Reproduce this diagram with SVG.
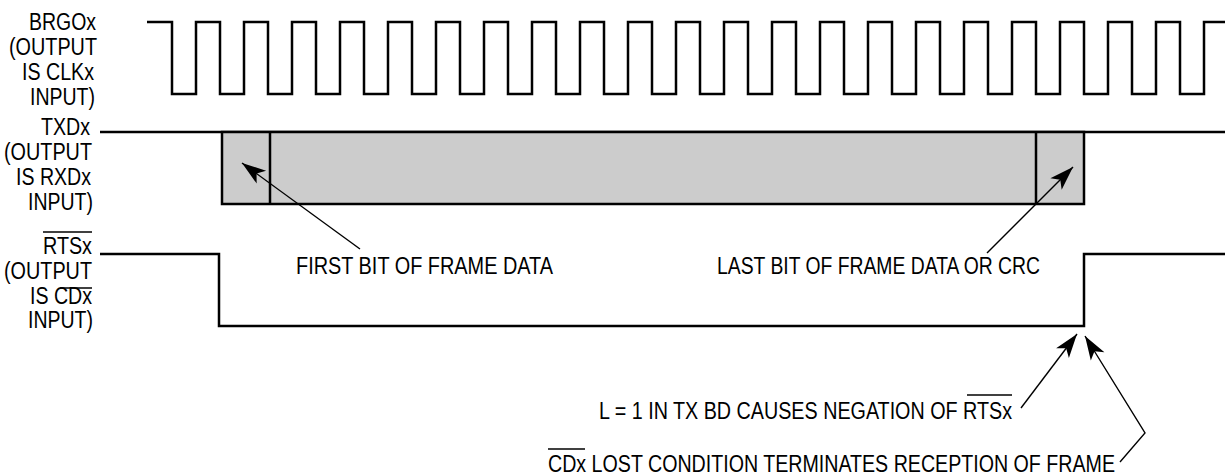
<svg xmlns="http://www.w3.org/2000/svg" width="1225" height="476" viewBox="0 0 1225 476">
<style>
text{font-family:"Liberation Sans",Arial,sans-serif;font-size:23px;fill:#000}
.lbl{text-anchor:end}
.wave{fill:none;stroke:#000;stroke-width:2.5;stroke-linejoin:miter}
.box{fill:#cccccc;stroke:#000;stroke-width:2.5}
.ov{stroke:#000;stroke-width:1.5}
.arr{fill:none;stroke:#000;stroke-width:1.4;marker-end:url(#ah)}
.lead{fill:none;stroke:#000;stroke-width:1.4}
</style>
<defs>
<marker id="ah" markerUnits="userSpaceOnUse" orient="auto" overflow="visible" refX="0" refY="0" markerWidth="30" markerHeight="20">
<path d="M0,0 L-24,-8 L-18,0 L-24,8 Z" fill="#000"/>
</marker>
</defs>
<rect width="1225" height="476" fill="#fff"/>
<g id="signal-brgo">
<text class="lbl" x="96" y="30" textLength="67" lengthAdjust="spacingAndGlyphs">BRGOx</text>
<text class="lbl" x="97" y="55" textLength="88" lengthAdjust="spacingAndGlyphs">(OUTPUT</text>
<text class="lbl" x="94" y="80" textLength="72" lengthAdjust="spacingAndGlyphs">IS CLKx</text>
<text class="lbl" x="95" y="105" textLength="65" lengthAdjust="spacingAndGlyphs">INPUT)</text>
<path class="wave" d="M147,22 H172 V94 H196 V22 H220 V94 H244 V22 H268 V94 H292 V22 H316 V94 H340 V22 H364 V94 H388 V22 H412 V94 H436 V22 H460 V94 H484 V22 H508 V94 H532 V22 H556 V94 H580 V22 H604 V94 H628 V22 H652 V94 H676 V22 H700 V94 H724 V22 H748 V94 H772 V22 H796 V94 H820 V22 H844 V94 H868 V22 H892 V94 H916 V22 H940 V94 H964 V22 H988 V94 H1012 V22 H1036 V94 H1060 V22 H1084 V94 H1108 V22 H1132 V94 H1156 V22 H1180 V94 H1204 V22 H1225"/>
</g>
<g id="signal-txd">
<text class="lbl" x="90" y="135" textLength="49" lengthAdjust="spacingAndGlyphs">TXDx</text>
<text class="lbl" x="92" y="160" textLength="88" lengthAdjust="spacingAndGlyphs">(OUTPUT</text>
<text class="lbl" x="91" y="185" textLength="75" lengthAdjust="spacingAndGlyphs">IS RXDx</text>
<text class="lbl" x="93" y="210" textLength="65" lengthAdjust="spacingAndGlyphs">INPUT)</text>
<path class="wave" d="M100,132 H1225"/>
<rect class="box" x="222" y="132" width="862" height="72"/>
<path class="wave" d="M270,132 V204 M1036,132 V204"/>
</g>
<g id="signal-rts">
<text class="lbl" x="92" y="254" textLength="49" lengthAdjust="spacingAndGlyphs">RTSx</text>
<line class="ov" x1="43" y1="232" x2="92" y2="232"/>
<text class="lbl" x="92" y="279" textLength="88" lengthAdjust="spacingAndGlyphs">(OUTPUT</text>
<text class="lbl" x="92" y="304" textLength="62" lengthAdjust="spacingAndGlyphs">IS CDx</text>
<line class="ov" x1="60" y1="288" x2="92" y2="288"/>
<text class="lbl" x="93" y="328" textLength="65" lengthAdjust="spacingAndGlyphs">INPUT)</text>
<path class="wave" d="M100,254 H219 V326 H1084 V254 H1225"/>
</g>
<g id="note-first-bit">
<text x="296" y="274" textLength="257" lengthAdjust="spacingAndGlyphs">FIRST BIT OF FRAME DATA</text>
</g>
<g id="note-last-bit">
<text x="717" y="274" textLength="323" lengthAdjust="spacingAndGlyphs">LAST BIT OF FRAME DATA OR CRC</text>
</g>
<g id="note-negation">
<text x="599" y="419" textLength="413" lengthAdjust="spacingAndGlyphs">L = 1 IN TX BD CAUSES NEGATION OF RTSx</text>
<line class="ov" x1="967" y1="395" x2="1012" y2="395"/>
</g>
<g id="note-cd-lost">
<text x="548" y="472" textLength="567" lengthAdjust="spacingAndGlyphs">CDx LOST CONDITION TERMINATES RECEPTION OF FRAME</text>
<line class="ov" x1="548" y1="449" x2="585" y2="449"/>
</g>
<g id="connectors">
<path class="arr" d="M360,249 L242,163"/>
<path class="arr" d="M987,253 L1073,167"/>
<path class="arr" d="M1021,408 L1077,334"/>
<path class="arr" d="M1120,462 L1145,433 L1085,336"/>
</g>
</svg>
